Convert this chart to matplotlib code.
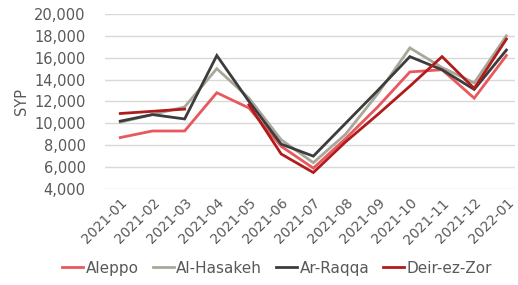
import numpy as np
import matplotlib
matplotlib.use("Agg")
import matplotlib.pyplot as plt

plt.rcParams['font.family'] = ['DejaVu Sans']

months = ["2021-01", "2021-02", "2021-03", "2021-04", "2021-05", "2021-06", "2021-07",
          "2021-08", "2021-09", "2021-10", "2021-11", "2021-12", "2022-01"]
aleppo = [8700, 9300, 9300, 12800, 11400, 7900, 5900, 8600, 11500, 14700, 14900, 12300, 16200]
hasakeh = [10100, 10800, 11500, 15000, 12300, 8500, 6400, 9000, 12700, 16900, 15100, 13700, 18000]
raqqa = [10200, 10800, 10400, 16200, 12000, 8100, 7000, 10000, 13000, 16100, 14900, 13100, 16700]
deir = [10900, 11100, 11300, np.nan, 11700, 7200, 5500, 8300, 10800, 13400, 16100, 13200, 17700]

series = [("Aleppo", aleppo, "#e8585c"),
          ("Al-Hasakeh", hasakeh, "#a8a79a"),
          ("Ar-Raqqa", raqqa, "#3c3c3c"),
          ("Deir-ez-Zor", deir, "#b01c1c")]

fig = plt.figure(figsize=(5.18, 2.85), dpi=100)
ax = fig.add_axes([0.203, 0.337, 0.792, 0.614])
x = np.arange(len(months))
for name, vals, col in series:
    ax.plot(x, vals, color=col, lw=2, label=name, solid_joinstyle='miter')

ax.set_ylim(4000, 20000)
ax.set_yticks(range(4000, 20001, 2000))
ax.set_yticklabels([f"{v:,}" for v in range(4000, 20001, 2000)])
ax.set_xlim(-0.47, 12.28)
ax.set_xticks(x)
ax.set_xticklabels(months, rotation=45, ha='right', rotation_mode='anchor')
ax.grid(axis='y', color='#d9d9d9', lw=1)
ax.set_axisbelow(True)
for s in ax.spines.values():
    s.set_visible(False)
ax.tick_params(axis='y', length=0, colors='#595959', labelsize=10.5, pad=14)
ax.tick_params(axis='x', length=0, colors='#595959', labelsize=10, pad=5)
ax.set_ylabel("SYP", color='#595959', fontsize=10.5, labelpad=4)

fig.legend(loc='lower center', bbox_to_anchor=(0.535, -0.015), ncol=4, frameon=False,
           fontsize=11, handlelength=1.4, handletextpad=0.15, columnspacing=0.9,
           labelcolor='#595959')

fig.savefig("out.png", dpi=100)
